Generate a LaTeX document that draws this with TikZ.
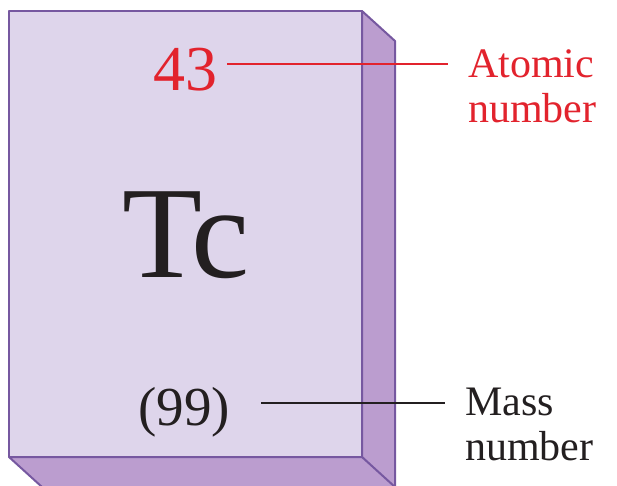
\documentclass[tikz,border=0pt]{standalone}
\usepackage{fontspec}
\setmainfont{Liberation Serif}
\usepackage{tikz}
\usetikzlibrary{positioning, calc}
\definecolor{tilefront}{RGB}{222, 213, 235}
\definecolor{tileside}{RGB}{187, 157, 207}
\definecolor{tileedge}{RGB}{118, 88, 160}
\definecolor{atomred}{RGB}{226, 35, 45}
\definecolor{inkblack}{RGB}{35, 31, 32}

\begin{document}
\begin{tikzpicture}[x=1pt, y=-1pt,
    tileline/.style={draw=tileedge, line width=2pt, line join=round},
    leader/.style={line width=2pt},
    labeltext/.style={font=\fontsize{42}{45}\selectfont, align=left, inner sep=0pt}]
\useasboundingbox (0,0) rectangle (617,485);
\begin{scope}
\clip (0,0) rectangle (617,485);
    % Tile: side and bottom faces first, front face on top
    \draw[tileline, fill=tileside] (362,11) -- (395,41) -- (395,490) -- (362,457) -- cycle;
    \draw[tileline, fill=tileside] (9,457) -- (362,457) -- (395,487) -- (42,487) -- cycle;
    \draw[tileline, fill=tilefront] (9,11) rectangle (362,457);
\end{scope}

% Element entries
\node[anchor=base, inner sep=0pt, color=atomred, font=\fontsize{64}{64}\selectfont] (num) at (185,90) {43};
\node[anchor=base, inner sep=0pt, color=inkblack, font=\fontsize{131}{131}\selectfont] (sym) at (186,277) {T\kern-.08em c};
\node[anchor=base, inner sep=0pt, color=inkblack, font=\fontsize{55}{55}\selectfont] (mass) at (184,425) {(99)};

% Labels on the right (base = last line)
\node[labeltext, anchor=base west, color=atomred] (atomic) at (468,122) {Atomic\\number};
\node[labeltext, anchor=base west, color=inkblack] (massno) at (465,460) {Mass\\number};

% Leader lines
\coordinate (numend) at ([xshift=10pt, yshift=26pt]num.base east);
\coordinate (massend) at ([xshift=31pt, yshift=22pt]mass.base east);
\draw[leader, atomred] (numend) -- ([xshift=-20pt]atomic.west |- numend);
\draw[leader, inkblack] (massend) -- ([xshift=-20pt]massno.west |- massend);
\end{tikzpicture}
\end{document}
